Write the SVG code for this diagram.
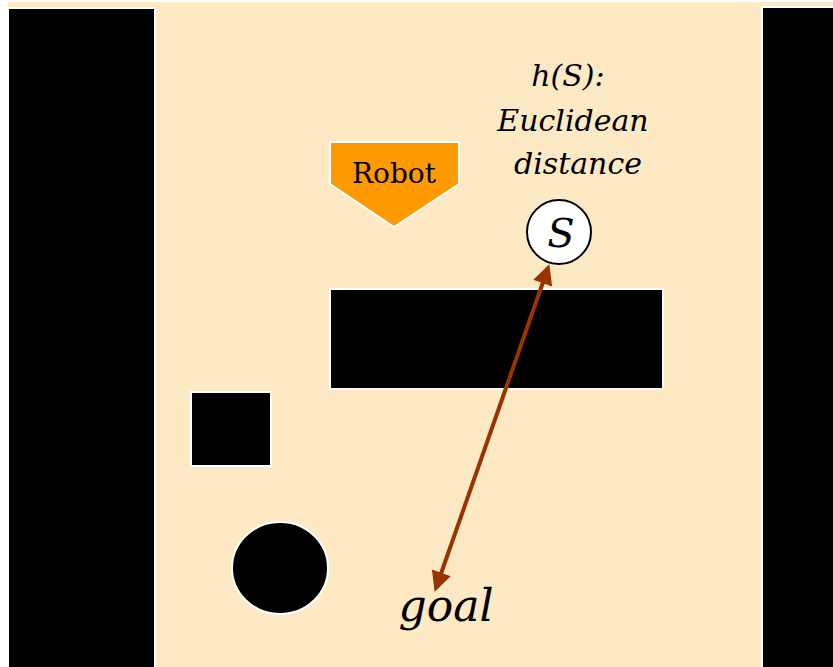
<svg xmlns="http://www.w3.org/2000/svg" width="833" height="667" viewBox="0 0 833 667">
  <style>
    .obst { fill: #000; stroke: #fff; stroke-width: 2; }
    .it { font-style: italic; }
    .serif { font-family: "DejaVu Serif", serif; }
  </style>
  <defs>
    <marker id="ah" viewBox="0 0 10 10" refX="8" refY="5" markerWidth="6" markerHeight="5" orient="auto-start-reverse" markerUnits="strokeWidth">
      <path d="M0,0 L10,5 L0,10 Z" fill="#993300"/>
    </marker>
  </defs>
  <rect width="833" height="667" fill="#fff"/>
  <!-- floor area -->
  <rect x="8" y="2" width="825" height="665" fill="#FDE9C3"/>
  <!-- side walls -->
  <g id="wall-left"><rect class="obst" x="8" y="8" width="147" height="662" stroke="#ddd"/></g>
  <g id="wall-right"><rect class="obst" x="762" y="7" width="80" height="662" stroke="#ddd"/></g>
  <!-- obstacles -->
  <g id="block"><rect class="obst" x="330" y="289" width="333" height="100"/></g>
  <g id="square"><rect class="obst" x="191" y="392" width="80" height="74"/></g>
  <g id="disc"><ellipse class="obst" cx="280" cy="568" rx="48" ry="46"/></g>
  <g class="serif" fill="#000">
    <!-- robot marker -->
    <g id="robot">
      <polygon points="330,142 459,142 459,184 394,227 330,184" fill="#FF9900" stroke="#fff" stroke-width="2"/>
      <text x="394" y="183" font-size="28" text-anchor="middle">Robot</text>
    </g>
    <!-- heuristic label -->
    <g id="h-label" class="it" font-size="30" text-anchor="middle">
      <text x="568" y="86">h(S):</text>
      <text x="573" y="131">Euclidean</text>
      <text x="578" y="174">distance</text>
    </g>
    <!-- state node -->
    <g id="state-s">
      <circle cx="559" cy="232" r="32" fill="#fff" stroke="#000" stroke-width="2"/>
      <text class="it" x="561" y="247" font-size="40" text-anchor="middle">S</text>
    </g>
    <!-- goal -->
    <g id="goal">
      <text class="it" x="446" y="621" font-size="44" text-anchor="middle">goal</text>
    </g>
  </g>
  <!-- distance connector -->
  <g id="connectors">
    <line x1="548" y1="268" x2="436" y2="588" stroke="#993300" stroke-width="4" marker-start="url(#ah)" marker-end="url(#ah)"/>
  </g>
</svg>
